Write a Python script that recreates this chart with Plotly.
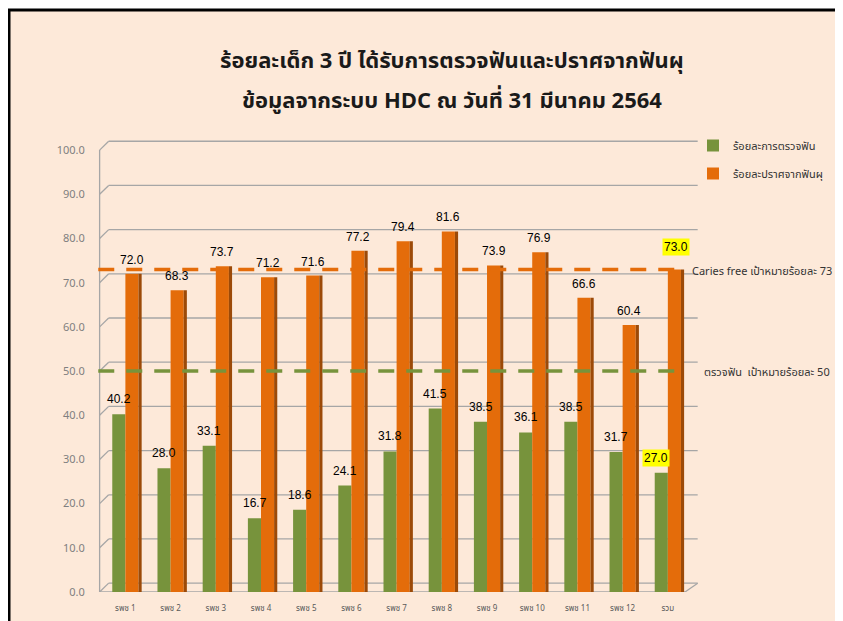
import plotly.graph_objects as go

categories = ["รพช 1", "รพช 2", "รพช 3", "รพช 4", "รพช 5", "รพช 6", "รพช 7",
              "รพช 8", "รพช 9", "รพช 10", "รพช 11", "รพช 12", "รวม"]
exam_pct = [40.2, 28.0, 33.1, 16.7, 18.6, 24.1, 31.8, 41.5, 38.5, 36.1, 38.5, 31.7, 27.0]
cariesfree_pct = [72.0, 68.3, 73.7, 71.2, 71.6, 77.2, 79.4, 81.6, 73.9, 76.9, 66.6, 60.4, 73.0]
target_cariesfree = 73
target_exam = 50
y_ticks = [0, 10, 20, 30, 40, 50, 60, 70, 80, 90, 100]

GREEN = "#77933C"
ORANGE = "#E46C0A"
ORANGE_DARK = "#9C4A08"
BG = "#FDE9D9"
GRID = "#A6A6A6"
FONT = "Tahoma, 'Noto Sans Thai', 'Loma', 'Garuda', 'Norasi', sans-serif"

OFF = 8  # page body margin
W, H = 843 - OFF, 621 - OFF
# plot area in page pixels
PL, PR, PT, PB = 96, 704, 128, 592
ML, MR, MT, MB = PL - OFF, W - (PR - OFF), PT - OFF, H - (PB - OFF)
PW = PR - PL
PH = PB - PT
XR = [-0.65, 12.8]
YR = [0, 105]

def px_x(p):
    return (p - PL) / PW

def px_y(p):
    return (PB - p) / PH

n = len(categories)
BW = 0.29

fig = go.Figure()
fig.add_trace(go.Bar(x=categories, y=exam_pct, name="ร้อยละการตรวจฟัน",
                     marker=dict(color=GREEN, line=dict(width=0)),
                     offset=-BW, width=BW, legendgroup="a"))
fig.add_trace(go.Bar(x=categories, y=cariesfree_pct, name="ร้อยละปราศจากฟันผุ",
                     marker=dict(color=ORANGE, line=dict(width=0)),
                     offset=0, width=BW, legendgroup="b"))
fig.add_trace(go.Bar(x=categories, y=cariesfree_pct, showlegend=False, hoverinfo="skip",
                     marker=dict(color=ORANGE_DARK, line=dict(width=0)),
                     offset=BW, width=0.07))

shapes = []
# outer frame
shapes.append(dict(type="rect", xref="paper", yref="paper",
                   x0=px_x(9), x1=px_x(838), y0=px_y(640), y1=px_y(10),
                   fillcolor=BG, line=dict(color="#000000", width=3), layer="below"))
# back-wall gridlines with 3D offset
dx, dy = 0.2, 2.0
x_axis = XR[0] + 0.08
for v in y_ticks[1:]:
    shapes.append(dict(type="line", xref="x", yref="y", x0=x_axis, x1=x_axis + dx,
                       y0=v, y1=v + dy, line=dict(color=GRID, width=1.3), layer="below"))
    shapes.append(dict(type="line", xref="x", yref="y", x0=x_axis + dx, x1=12.66,
                       y0=v + dy, y1=v + dy, line=dict(color=GRID, width=1.3), layer="below"))
# axis line
shapes.append(dict(type="line", xref="x", yref="y", x0=x_axis, x1=x_axis,
                   y0=0, y1=100, line=dict(color=GRID, width=1.3), layer="below"))
# floor
shapes.append(dict(type="line", xref="x", yref="y", x0=x_axis, x1=12.38,
                   y0=0, y1=0, line=dict(color=GRID, width=1.3), layer="below"))
shapes.append(dict(type="line", xref="x", yref="y", x0=x_axis, x1=x_axis + dx,
                   y0=0, y1=dy, line=dict(color=GRID, width=1.3), layer="below"))
shapes.append(dict(type="line", xref="x", yref="y", x0=x_axis + dx, x1=12.66,
                   y0=dy, y1=dy, line=dict(color=GRID, width=1.3), layer="below"))
shapes.append(dict(type="line", xref="x", yref="y", x0=12.38, x1=12.66,
                   y0=0, y1=dy, line=dict(color=GRID, width=1.3), layer="below"))
# target lines
shapes.append(dict(type="line", xref="x", yref="y", x0=-0.6, x1=12.4,
                   y0=target_cariesfree, y1=target_cariesfree,
                   line=dict(color=ORANGE, width=3.5, dash="16px,12px"), layer="above"))
shapes.append(dict(type="line", xref="x", yref="y", x0=-0.6, x1=12.4,
                   y0=target_exam, y1=target_exam,
                   line=dict(color=GREEN, width=3.5, dash="16px,12px"), layer="above"))

annotations = []
annotations.append(dict(text="<b>ร้อยละเด็ก 3 ปี ได้รับการตรวจฟันและปราศจากฟันผุ</b>",
                        xref="paper", yref="paper", x=px_x(452), y=px_y(43),
                        showarrow=False, font=dict(family=FONT, size=22, color="#1A1A1A")))
annotations.append(dict(text="<b>ข้อมูลจากระบบ HDC ณ วันที่ 31 มีนาคม 2564</b>",
                        xref="paper", yref="paper", x=px_x(452), y=px_y(83),
                        showarrow=False, font=dict(family=FONT, size=22, color="#1A1A1A")))
annotations.append(dict(text="Caries free เป้าหมายร้อยละ 73", xref="paper", yref="paper",
                        x=px_x(690), y=px_y(261), xanchor="left", showarrow=False,
                        font=dict(family=FONT, size=11, color="#333333")))
annotations.append(dict(text="ตรวจฟัน  เป้าหมายร้อยละ 50", xref="paper", yref="paper",
                        x=px_x(702), y=px_y(372), xanchor="left", showarrow=False,
                        font=dict(family=FONT, size=11, color="#333333")))

for i, (g, o) in enumerate(zip(exam_pct, cariesfree_pct)):
    last = i == n - 1
    annotations.append(dict(text=f"{g:.1f}", x=categories[i], y=g, xref="x", yref="y",
                            xshift=-6.5 - (5 if last else 0), yshift=15, showarrow=False,
                            bgcolor="#FFFF00" if last else None,
                            font=dict(family="Liberation Sans, Arial, sans-serif", size=12,
                                      color="#000000")))
    annotations.append(dict(text=f"{o:.1f}", x=categories[i], y=o, xref="x", yref="y",
                            xshift=6.5 + (2 if last else 0), yshift=22 if last else 14,
                            showarrow=False,
                            bgcolor="#FFFF00" if last else None,
                            font=dict(family="Liberation Sans, Arial, sans-serif", size=12,
                                      color="#000000")))

fig.update_layout(
    width=W, height=H,
    margin=dict(l=ML, r=MR, t=MT, b=MB, autoexpand=False),
    paper_bgcolor="#FFFFFF",
    plot_bgcolor="rgba(0,0,0,0)",
    barmode="overlay",
    showlegend=True,
    legend=dict(x=px_x(693), y=px_y(131), xanchor="left", yanchor="top",
                bgcolor="rgba(0,0,0,0)", tracegroupgap=9, traceorder="grouped",
                itemwidth=30,
                font=dict(family=FONT, size=11, color="#333333")),
    xaxis=dict(range=XR, showgrid=False, zeroline=False, showline=False,
               automargin=False,
               tickfont=dict(family=FONT, size=8, color="#595959"), ticks="",
               ticklabelstandoff=10),
    yaxis=dict(range=YR, tickvals=y_ticks, tickformat=".1f", showgrid=False,
               zeroline=False, showline=False, automargin=False,
               tickfont=dict(family=FONT, size=11, color="#7F7F7F"),
               ticks="outside", ticklen=8, tickcolor="rgba(0,0,0,0)"),
    shapes=shapes,
    annotations=annotations,
)

fig.write_html("out.html")
